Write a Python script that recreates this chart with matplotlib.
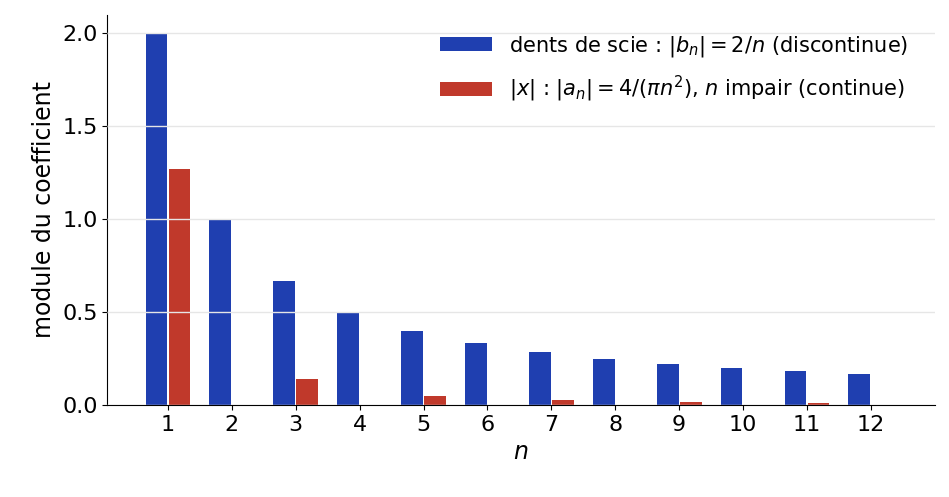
import matplotlib
matplotlib.use("Agg")
import matplotlib.pyplot as plt
import numpy as np

n_vals = [1, 2, 3, 4, 5, 6, 7, 8, 9, 10, 11, 12]
saw = [2.0, 1.0, 0.667, 0.5, 0.4, 0.333, 0.286, 0.25, 0.222, 0.2, 0.182, 0.167]
absx = [1.273, 0, 0.141, 0, 0.051, 0, 0.026, 0, 0.016, 0, 0.0105, 0]

fig, ax = plt.subplots(figsize=(9.49, 4.97), dpi=100)
x = np.array(n_vals)
w = 0.34
ax.bar(x - 0.18, saw, w, color="#1f3fb0", label=r"dents de scie : $|b_n| = 2/n$ (discontinue)", zorder=1)
ax.bar(x + 0.18, absx, w, color="#c0392b", label=r"$|x|$ : $|a_n| = 4/(\pi n^2)$, $n$ impair (continue)", zorder=1)
ax.set_axisbelow(False)
ax.yaxis.grid(True, color="#e6e6e6", linewidth=1, zorder=2)
ax.set_xticks(n_vals)
ax.set_xlim(0.05, 13.0)
ax.set_ylim(0, 2.1)
ax.set_yticks([0, 0.5, 1.0, 1.5, 2.0])
ax.set_yticklabels(["0.0", "0.5", "1.0", "1.5", "2.0"])
ax.tick_params(labelsize=16)
ax.set_xlabel(r"$n$", fontsize=17)
ax.set_ylabel("module du coefficient", fontsize=17)
for s in ["top", "right"]:
    ax.spines[s].set_visible(False)
ax.legend(frameon=False, fontsize=15, loc="upper right", handlelength=2.5,
          labelspacing=0.75, bbox_to_anchor=(0.99, 1.0))
fig.subplots_adjust(left=0.113, right=0.985, top=0.97, bottom=0.185)
fig.savefig("out.png", dpi=100)
